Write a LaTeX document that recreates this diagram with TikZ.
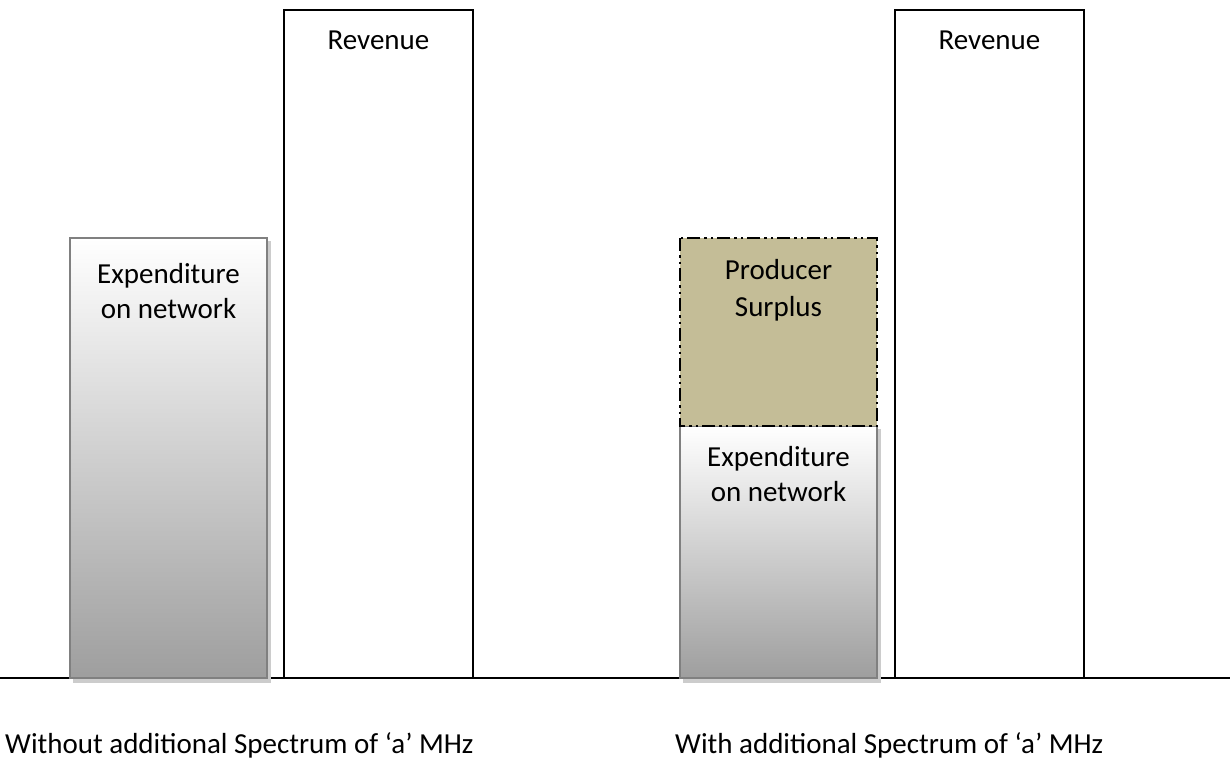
\documentclass[tikz,border=0pt]{standalone}
\usepackage{fontspec}
\setmainfont{Carlito}
\begin{document}
\begin{tikzpicture}[x=1pt,y=-1pt,
  lbl/.style={font=\fontsize{29}{35}\selectfont, anchor=base, inner sep=0pt},
  bottomlbl/.style={font=\fontsize{29}{35}\selectfont, anchor=base west, inner sep=0pt},
  gradbar/.style={draw=black!50, line width=2.4pt, top color=white, bottom color=black!38},
  revbar/.style={draw=black, line width=2pt, fill=white},
  shadowbar/.style={fill=black!20, draw=none},
  surplus/.style={draw=black, line width=2pt, fill={rgb,255:red,196;green,189;blue,151},
    dash pattern=on 13pt off 4pt on 2.5pt off 4pt on 2.5pt off 4pt}
]
\useasboundingbox (0,0) rectangle (1230,762);
% baseline
\draw[line width=1.8pt] (0,678) coordinate (bl) -- (1230,678) coordinate (br);
% left group
\fill[shadowbar] (73,241) rectangle (271,683);
\draw[gradbar] (70,238) rectangle (267,678);
\node[lbl] (expL1) at (168.5,283) {Expenditure};
\node[lbl] (expL2) at (168.5,318) {on network};
\draw[revbar] (284,10) rectangle (473,678);
\node[lbl] (revL) at (378.5,50) {Revenue};
% right group
\fill[shadowbar] (683,429) rectangle (881,683);
\draw[gradbar] (680,426) rectangle (877,678);
\node[lbl] (expR1) at (778.5,466) {Expenditure};
\node[lbl] (expR2) at (778.5,501) {on network};
\draw[surplus] (680,238) rectangle (877,426);
\node[lbl] (surR1) at (778.5,279) {Producer};
\node[lbl] (surR2) at (778.5,316) {Surplus};
\draw[revbar] (895,10) rectangle (1084,678);
\node[lbl] (revR) at (989.5,50) {Revenue};
% bottom labels
\node[bottomlbl] (without) at (5,753) {Without additional Spectrum of ‘a’ MHz};
\node[bottomlbl] (with) at (675,753) {With additional Spectrum of ‘a’ MHz};
\end{tikzpicture}
\end{document}
